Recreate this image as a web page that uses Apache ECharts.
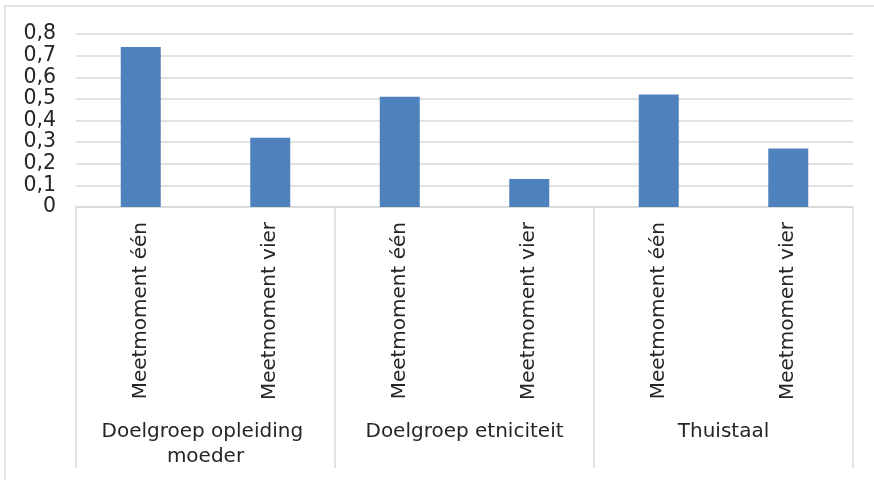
<!DOCTYPE html>
<html>
<head>
<meta charset="utf-8">
<script src="https://cdn.jsdelivr.net/npm/echarts@6/dist/echarts.min.js"></script>
<style>
html,body{margin:0;padding:0;background:#fff;}
#chart{width:874px;height:480px;}
</style>
</head>
<body>
<div id="chart"></div>
<script>
const categories = ["Meetmoment één","Meetmoment vier","Meetmoment één","Meetmoment vier","Meetmoment één","Meetmoment vier"];
const groups = ["Doelgroep opleiding moeder","Doelgroep etniciteit","Thuistaal"];
const values = [0.74, 0.32, 0.51, 0.13, 0.52, 0.27];
const yTicks = {min: 0, max: 0.8, interval: 0.1};

const FONT = "DejaVu Sans";
const TXT = "#262626";
const LINE = "#d9d9d9";

const chart = echarts.init(document.getElementById('chart'), null, {renderer:'canvas'});
chart.setOption({
  animation:false,
  backgroundColor:'#fff',
  graphic:[{type:'rect', shape:{x:5, y:6, width:900, height:500}, style:{fill:'none', stroke:LINE, lineWidth:1.5}, z:-1}],
  grid:{left:76, right:21, top:34, bottom:273},
  xAxis:[
    {type:'category', data:categories, position:'bottom',
     axisLine:{show:true, lineStyle:{color:LINE, width:1.5}},
     axisTick:{show:false},
     axisLabel:{rotate:90, interval:0, margin:15, fontFamily:FONT, fontSize:20, color:TXT}},
    {type:'category', data:groups, position:'bottom',
     axisLine:{show:false},
     axisTick:{show:true, length:261, alignWithLabel:false, lineStyle:{color:LINE, width:1.5}},
     axisLabel:{interval:0, margin:212, fontFamily:FONT, fontSize:20, color:TXT, width:240, overflow:'break', lineHeight:25, align:'center'}}
  ],
  yAxis:{type:'value', min:yTicks.min, max:yTicks.max, interval:yTicks.interval,
    axisLine:{show:false}, axisTick:{show:false},
    splitLine:{lineStyle:{color:LINE, width:1.5}},
    axisLabel:{margin:20, fontFamily:FONT, fontSize:20.5, color:TXT,
      formatter:v => v === 0 ? '0' : v.toFixed(1).replace('.', ',')}},
  series:[{type:'bar', data:values, xAxisIndex:0, barWidth:40, itemStyle:{color:'#4f81bd'}}]
});
</script>
</body>
</html>
